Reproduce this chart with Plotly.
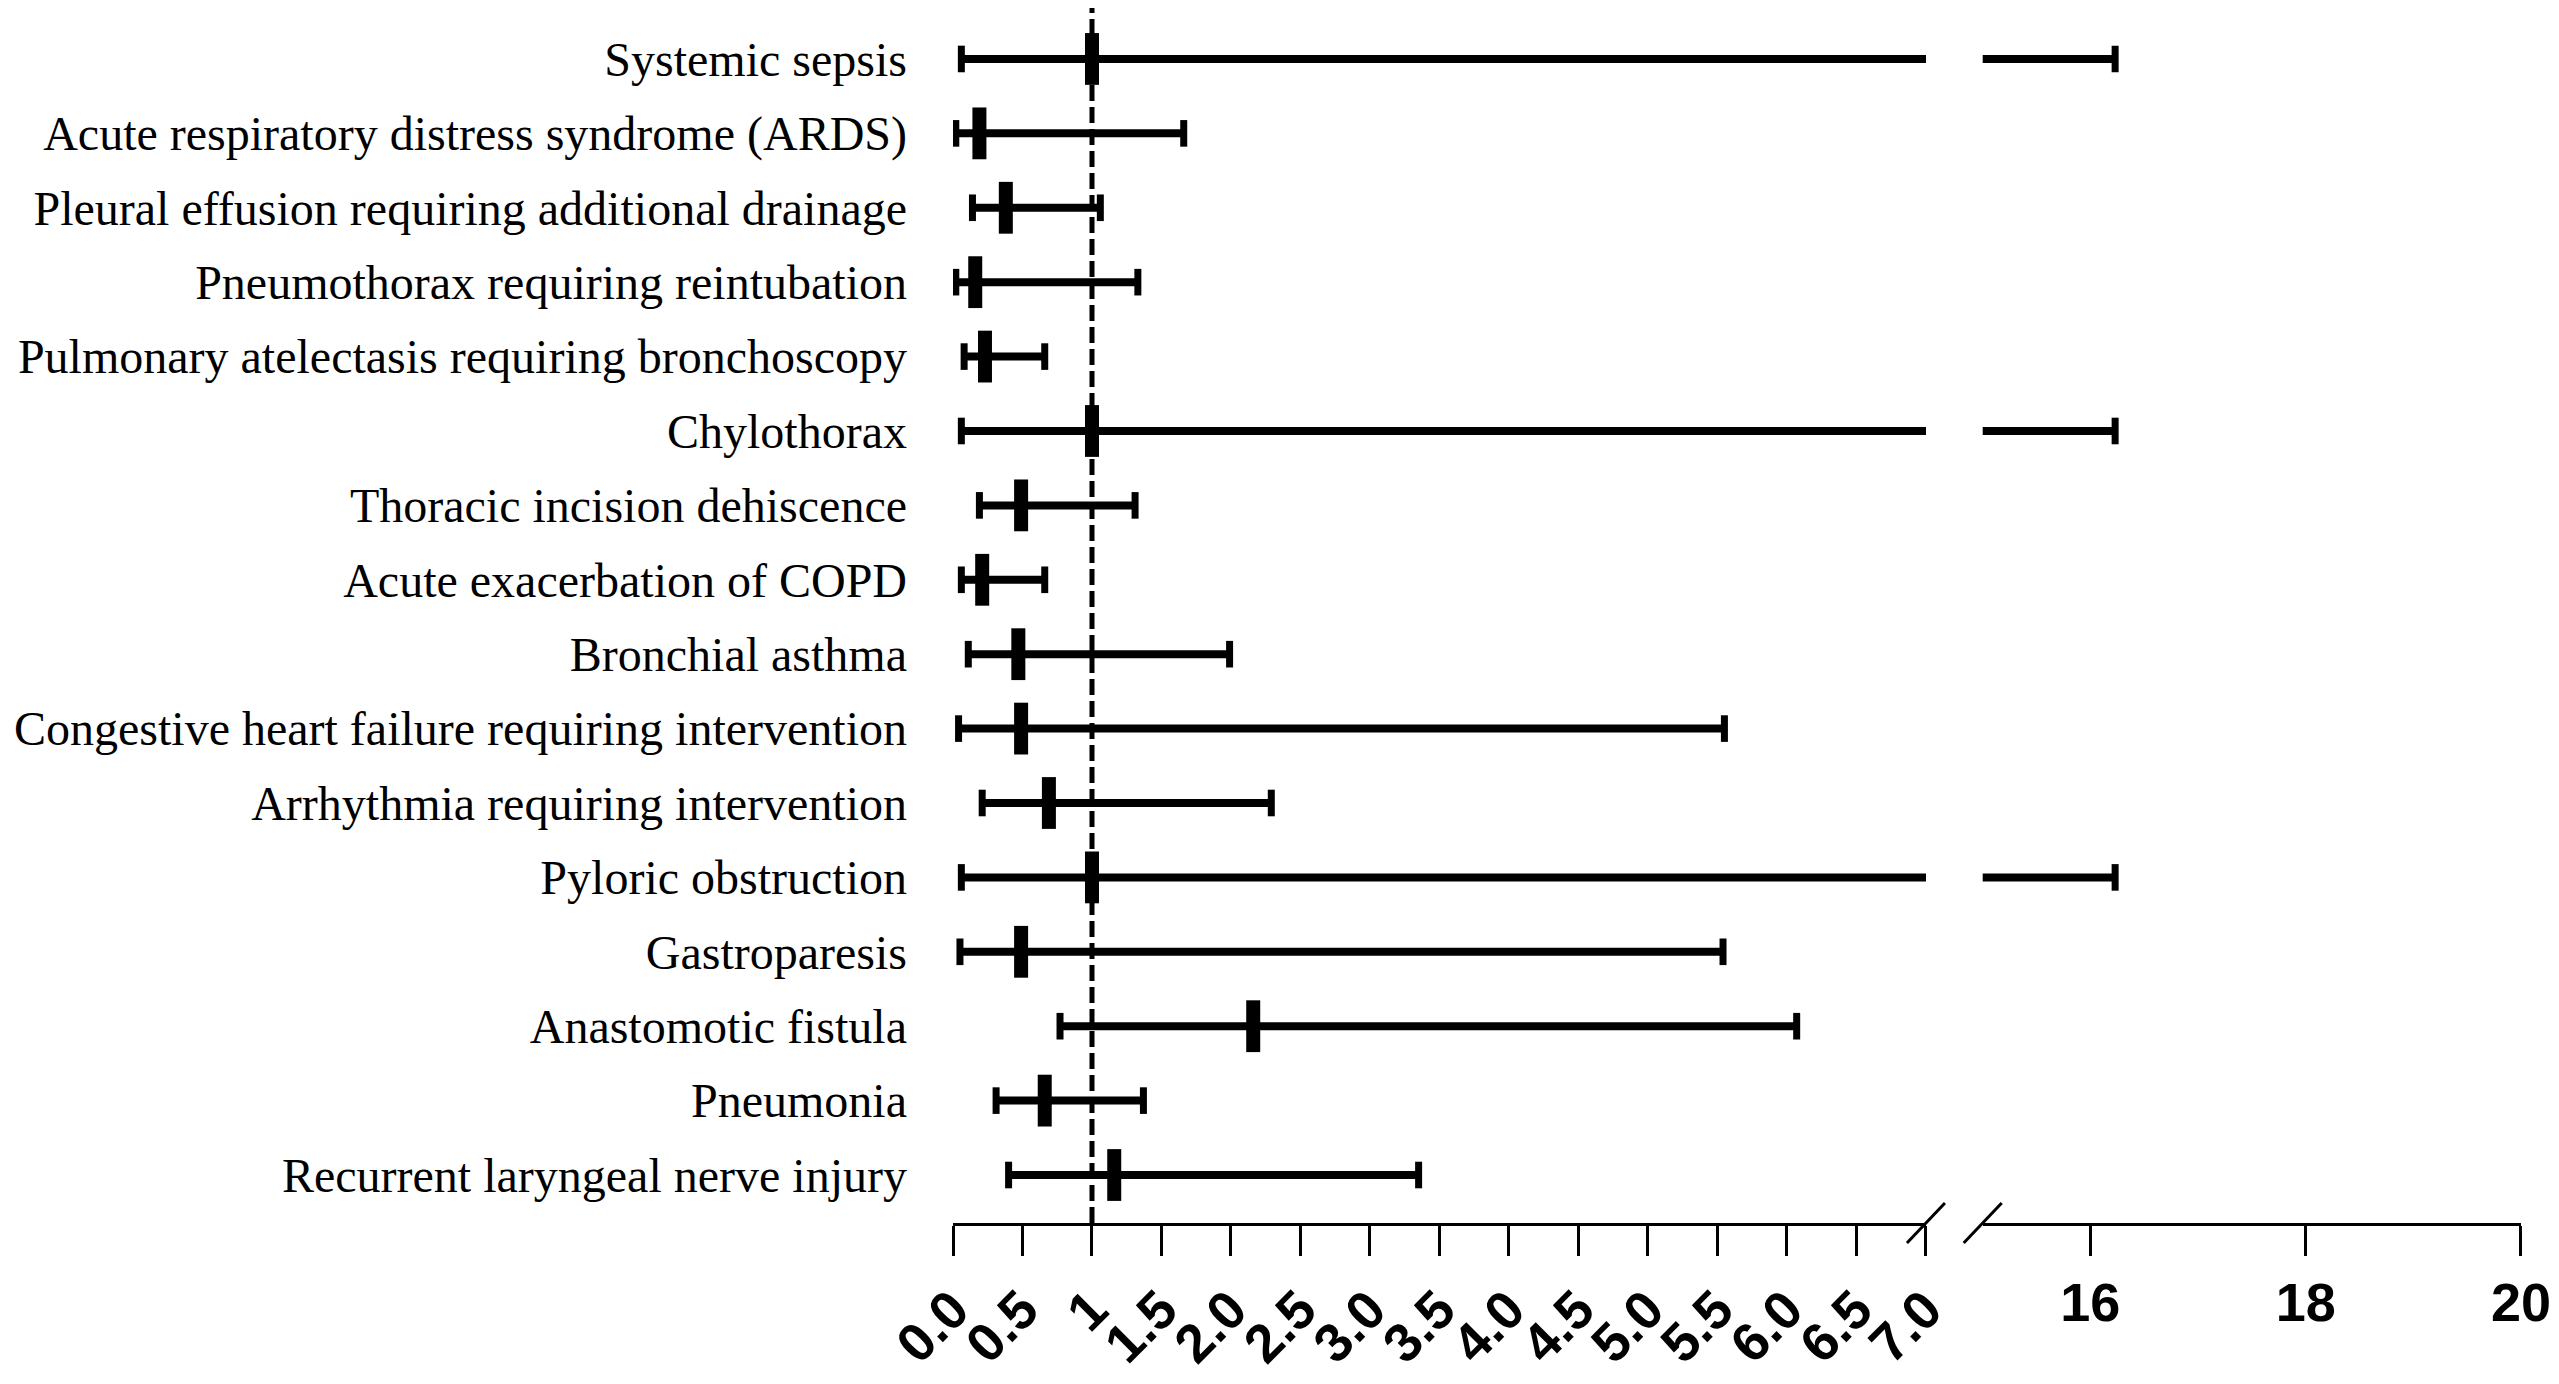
import plotly.graph_objects as go

complications = [
    "Systemic sepsis",
    "Acute respiratory distress syndrome (ARDS)",
    "Pleural effusion requiring additional drainage",
    "Pneumothorax requiring reintubation",
    "Pulmonary atelectasis requiring bronchoscopy",
    "Chylothorax",
    "Thoracic incision dehiscence",
    "Acute exacerbation of COPD",
    "Bronchial asthma",
    "Congestive heart failure requiring intervention",
    "Arrhythmia requiring intervention",
    "Pyloric obstruction",
    "Gastroparesis",
    "Anastomotic fistula",
    "Pneumonia",
    "Recurrent laryngeal nerve injury",
]
estimate = [1.00, 0.19, 0.38, 0.16, 0.23, 1.00, 0.49, 0.21, 0.47, 0.49, 0.69, 1.00, 0.49, 2.16, 0.66, 1.16]
ci_low = [0.06, 0.02, 0.14, 0.02, 0.08, 0.06, 0.19, 0.06, 0.11, 0.04, 0.21, 0.06, 0.05, 0.77, 0.31, 0.40]
ci_high = [16.23, 1.66, 1.06, 1.33, 0.66, 16.23, 1.31, 0.66, 1.99, 5.55, 2.29, 16.23, 5.54, 6.07, 1.37, 3.35]

low_ticks = [0, 0.5, 1, 1.5, 2, 2.5, 3, 3.5, 4, 4.5, 5, 5.5, 6, 6.5, 7]
low_tick_text = ["0.0", "0.5", "1", "1.5", "2.0", "2.5", "3.0", "3.5", "4.0", "4.5",
                 "5.0", "5.5", "6.0", "6.5", "7.0"]
high_ticks = [16, 18, 20]
REF_LINE = 1

# the page body has an 8px margin, so the figure is a little smaller than the window
X1_DOMAIN = [0, 0.6205]
X2_DOMAIN = [0.6567, 1]

# whisker segments separated by gaps
wx, wy = [], []
for name, lo, hi in zip(complications, ci_low, ci_high):
    wx += [lo, hi, None]
    wy += [name, name, None]

whisker_style = dict(
    mode="lines+markers",
    line=dict(color="black", width=8),
    marker=dict(symbol="line-ns", size=19, line=dict(color="black", width=7)),
    showlegend=False,
    hoverinfo="skip",
)

fig = go.Figure()
fig.add_trace(go.Scatter(x=wx, y=wy, xaxis="x", yaxis="y", **whisker_style))
fig.add_trace(go.Scatter(x=wx, y=wy, xaxis="x2", yaxis="y", **whisker_style))
fig.add_trace(go.Scatter(
    x=estimate, y=complications, xaxis="x", yaxis="y",
    mode="markers",
    marker=dict(symbol="line-ns", size=37, line=dict(color="black", width=14)),
    showlegend=False,
))

fig.add_shape(type="line", xref="x", yref="paper", x0=REF_LINE, x1=REF_LINE, y0=0, y1=1.01,
              line=dict(color="black", width=5, dash="16px,6px"), layer="below")

# axis break marks
for anchor in (X1_DOMAIN[1], X2_DOMAIN[0]):
    fig.add_shape(type="line", xref="paper", xsizemode="pixel", xanchor=anchor, x0=-19, x1=19,
                  yref="paper", ysizemode="pixel", yanchor=0, y0=-20, y1=20,
                  line=dict(color="black", width=3))

tick_font = dict(family="Liberation Sans", size=54, color="black", weight="bold")
axis_common = dict(
    showline=True, linecolor="black", linewidth=3,
    ticks="outside", ticklen=30, tickwidth=3, tickcolor="black",
    showgrid=False, zeroline=False, tickfont=tick_font, anchor="y",
    ticklabeloverflow="allow",
)

fig.update_layout(
    width=2543,
    height=1368,
    margin=dict(l=945, r=25, t=0, b=153),
    plot_bgcolor="white",
    paper_bgcolor="white",
    xaxis=dict(domain=X1_DOMAIN, range=[0, 7], tickvals=low_ticks, ticktext=low_tick_text,
               tickangle=-45, **axis_common),
    xaxis2=dict(domain=X2_DOMAIN, range=[15, 20], tickvals=high_ticks, tickangle=0, **axis_common),
    yaxis=dict(
        type="category",
        categoryorder="array",
        categoryarray=complications[::-1],
        range=[-0.645, 15.685],
        showline=False, showgrid=False, zeroline=False, ticks="",
        ticklabelstandoff=45,
        tickfont=dict(family="Liberation Serif", size=48, color="black"),
    ),
)

fig.write_html("out.html")
